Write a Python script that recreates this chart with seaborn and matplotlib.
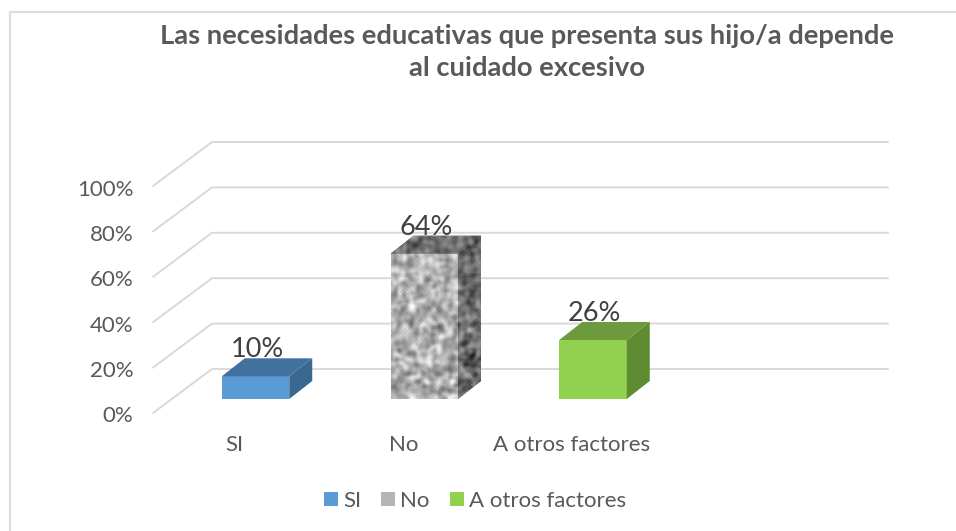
import numpy as np
import pandas as pd
import matplotlib
matplotlib.use("Agg")
import matplotlib.pyplot as plt
from matplotlib.lines import Line2D
from matplotlib.patches import Patch, Polygon
from matplotlib.transforms import ScaledTranslation
import seaborn as sns

# ---- data ----
categories = ["SI", "No", "A otros factores"]
values = [10, 64, 26]
value_labels = ["10%", "64%", "26%"]
y_ticks = [0, 20, 40, 60, 80, 100]
y_tick_labels = ["0%", "20%", "40%", "60%", "80%", "100%"]
title = "Las necesidades educativas que presenta sus hijo/a depende\nal cuidado excesivo"

# ---- style ----
front_colors = ["#5B9BD5", "#B4B4B4", "#92D050"]
top_colors = ["#41719C", "#6E6E6E", "#6C9A3C"]
side_colors = ["#3A6890", "#555555", "#5F8C33"]
W, H = 956, 531
AX_L, AX_R, AX_B, AX_T = 153, 888, 413, 186   # pixels: front wall of the chart
PX_PER_CAT = 168.75
FIRST_CENTER = 255.5
GRID_DX, GRID_DY = 59, 44                     # depth of the floor, px
BAR_DX, BAR_DY = 23, 18                       # depth of a bar, px
BAR_INSET_DY = 14                             # bar front above front floor edge, px

sns.set_theme(style="white")
plt.rcParams["font.family"] = ["Lato", "DejaVu Sans"]

fig = plt.figure(figsize=(W / 100, H / 100), dpi=100, facecolor="white")
ax = fig.add_axes([AX_L / W, 1 - AX_B / H, (AX_R - AX_L) / W, (AX_B - AX_T) / H])
ax.set_facecolor("none")

df = pd.DataFrame({"cat": categories, "val": values})
sns.barplot(data=df, x="cat", y="val", hue="cat", palette=front_colors, dodge=False,
            width=0.4, legend=False, ax=ax, linewidth=0, saturation=1, zorder=3)

ax.set_xlim((AX_L - FIRST_CENTER) / PX_PER_CAT, (AX_R - FIRST_CENTER) / PX_PER_CAT)
ax.set_ylim(0, 100)
px_y = 100 / (AX_B - AX_T)
px_x = 1 / PX_PER_CAT

# grid: front edge, going back into the depth, then along the wall
xmin, xmax = ax.get_xlim()
for t in y_ticks:
    ax.plot([xmin, xmin + GRID_DX * px_x, xmax], [t, t + GRID_DY * px_y, t + GRID_DY * px_y],
            color="#D9D9D9", lw=1.4, zorder=1, clip_on=False, solid_joinstyle="miter")

# texture for the "No" bar (deterministic mottling, not data)
def mottle(nrows, ncols):
    yy, xx = np.mgrid[0:nrows, 0:ncols]
    n = np.sin(xx * 12.9898 + yy * 78.233 + xx * yy * 0.137) * 43758.5453
    n = n - np.floor(n)
    for _ in range(2):
        n = (n + np.roll(n, 1, 0) + np.roll(n, -1, 0) + np.roll(n, 1, 1) + np.roll(n, -1, 1)) / 5
    return (n - n.mean()) / n.std()

base_y = BAR_INSET_DY * px_y
bars = list(ax.patches)
for i, (bar, v) in enumerate(zip(bars, values)):
    bar.set_y(base_y)
    x0, x1 = bar.get_x(), bar.get_x() + bar.get_width()
    top = base_y + v
    ddx, ddy = BAR_DX * px_x, BAR_DY * px_y
    bar.set_height(v)
    top_face = Polygon([(x0, top), (x1, top), (x1 + ddx, top + ddy), (x0 + ddx, top + ddy)],
                       closed=True, fc=top_colors[i], ec="none", zorder=3)
    side_face = Polygon([(x1, base_y), (x1 + ddx, base_y + ddy), (x1 + ddx, top + ddy), (x1, top)],
                        closed=True, fc=side_colors[i], ec="none", zorder=3)
    ax.add_patch(top_face)
    ax.add_patch(side_face)
    if categories[i] == "No":
        for face, mid, amp in [(bar, 0.69, 0.10), (top_face, 0.44, 0.08), (side_face, 0.42, 0.10)]:
            im = ax.imshow(np.clip(mid + amp * mottle(85, 48), 0, 1), cmap="gray", vmin=0, vmax=1,
                           extent=(x0, x1 + ddx, base_y, top + ddy), aspect="auto",
                           interpolation="bilinear", zorder=3.5)
            im.set_clip_path(face)
    ax.text((x0 + x1) / 2 + 1.5 * px_x, top + ddy - 4 * px_y, value_labels[i], ha="center", va="bottom",
            fontsize=19.5, color="#404040", zorder=5)

ax.set_xlim(xmin, xmax)
ax.set_ylim(0, 100)

# axes text
ax.set_yticks(y_ticks)
ax.set_yticklabels(y_tick_labels, fontsize=16, color="#595959")
ax.tick_params(axis="y", length=0, pad=14)
for lab in ax.get_yticklabels():
    lab.set_transform(lab.get_transform() + ScaledTranslation(0, -1.5 / 100, fig.dpi_scale_trans))
ax.set_xticks(range(len(categories)))
ax.set_xticklabels(categories, fontsize=16, color="#595959")
ax.tick_params(axis="x", length=0, pad=16)
for lab in ax.get_xticklabels():
    lab.set_transform(lab.get_transform() + ScaledTranslation(-21 / 100, 0, fig.dpi_scale_trans))
ax.set_xlabel("")
ax.set_ylabel("")
sns.despine(ax=ax, left=True, bottom=True)

fig.text(527 / W, 1 - 52 / H, title, ha="center", va="center", fontsize=19.7, fontweight="bold",
         color="#595959", linespacing=1.4)

# legend
handles = [Patch(fc=c, ec="none") for c in front_colors]
fig.legend(handles, categories, loc="center", bbox_to_anchor=(475 / W, 1 - 501 / H), ncol=3,
           frameon=False, fontsize=16, labelcolor="#595959", handlelength=0.63, handleheight=0.63,
           handletextpad=0.22, columnspacing=0.92, borderpad=0)

# frame of the embedded chart (only left and top are visible)
fig.add_artist(Line2D([9.5 / W, 9.5 / W, 1], [0, 1 - 11.5 / H, 1 - 11.5 / H], color="#DDDDDD",
                      lw=1.6, transform=fig.transFigure))

fig.savefig("out.png", dpi=100, facecolor="white")
